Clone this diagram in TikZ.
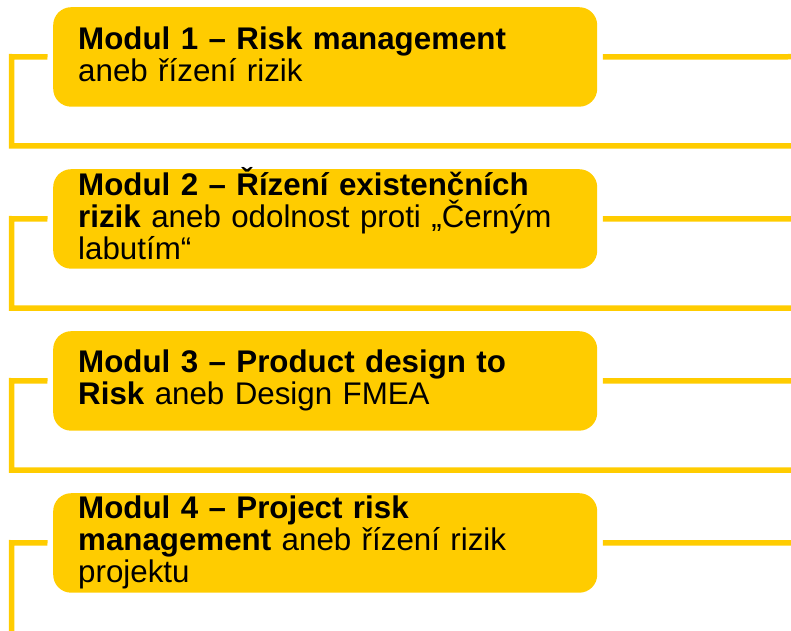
\documentclass[tikz,border=0pt]{standalone}
\usepackage{fontspec}
\setmainfont{Liberation Sans}
\definecolor{ybox}{HTML}{FFCC00}
\setlength{\parindent}{0pt}
\newcommand{\firstln}[1]{\rule{0pt}{22.5pt}\smash{#1}}
\newcommand{\lastln}{\rule[-5pt]{0pt}{5pt}}
\begin{document}
\begin{tikzpicture}[x=1pt,y=1pt,
  modbox/.style={fill=ybox, rounded corners=18pt, minimum height=99.5pt,
    text width=494pt, inner xsep=25pt, inner ysep=0pt, align=left,
    anchor=north west, font=\fontsize{31.3}{32}\selectfont},
  link/.style={draw=ybox, line width=5.5pt}]
\useasboundingbox (0,0) rectangle (791,630);

% boxes
\node[modbox] (m1) at (53,623) {\firstln{\textbf{Modul 1 – Risk management}}\\
  aneb řízení rizik\lastln};
\node[modbox] (m2) at (53,461) {\firstln{\textbf{Modul 2 – Řízení existenčních}}\\
  \textbf{rizik} aneb odolnost proti „Černým\\
  labutím“\lastln};
\node[modbox] (m3) at (53,299) {\firstln{\textbf{Modul 3 – Product design to}}\\
  \textbf{Risk} aneb Design FMEA\lastln};
\node[modbox] (m4) at (53,137) {\firstln{\textbf{Modul 4 – Project risk}}\\
  \textbf{management} aneb řízení rizik\\
  projektu\lastln};

% free ends
\coordinate (l1) at (11.5,573.25);
\coordinate (b1) at (11.5,484);
\coordinate (e1) at (791,484);
\coordinate (r1) at (791,573.25);
\coordinate (l2) at (11.5,411.25);
\coordinate (b2) at (11.5,322);
\coordinate (e2) at (791,322);
\coordinate (r2) at (791,411.25);
\coordinate (l3) at (11.5,249.25);
\coordinate (b3) at (11.5,160);
\coordinate (e3) at (791,160);
\coordinate (r3) at (791,249.25);
\coordinate (l4) at (11.5,87.25);
\coordinate (b4) at (11.5,-3);
\coordinate (r4) at (791,87.25);

% connectors
\draw[link] ([xshift=-5.5pt]m1.west) -- (l1) -- (b1) -- (e1);
\draw[link] ([xshift=5.5pt]m1.east) -- (r1);
\draw[link] ([xshift=-5.5pt]m2.west) -- (l2) -- (b2) -- (e2);
\draw[link] ([xshift=5.5pt]m2.east) -- (r2);
\draw[link] ([xshift=-5.5pt]m3.west) -- (l3) -- (b3) -- (e3);
\draw[link] ([xshift=5.5pt]m3.east) -- (r3);
\draw[link] ([xshift=-5.5pt]m4.west) -- (l4) -- (b4);
\draw[link] ([xshift=5.5pt]m4.east) -- (r4);
\end{tikzpicture}
\end{document}
